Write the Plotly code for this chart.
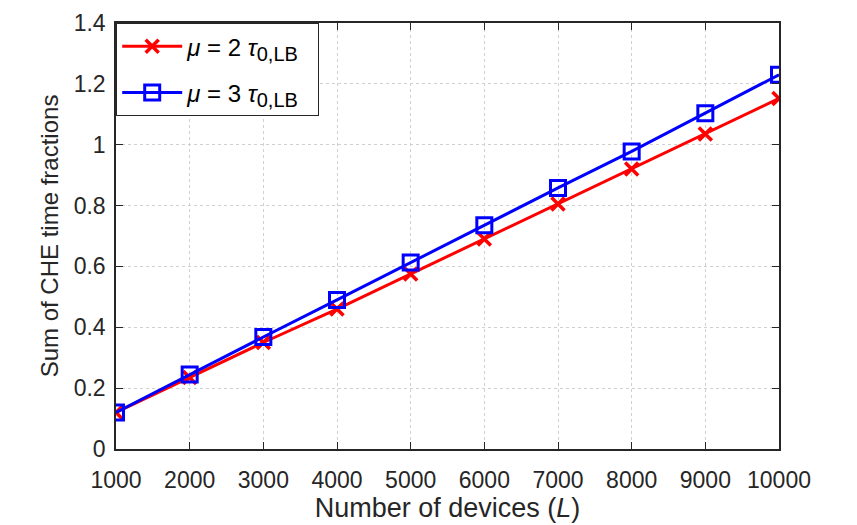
import plotly.graph_objects as go

devices = [1000, 2000, 3000, 4000, 5000, 6000, 7000, 8000, 9000, 10000]
mu2 = [0.12, 0.235, 0.35, 0.46, 0.575, 0.69, 0.805, 0.92, 1.035, 1.152]
mu3 = [0.12, 0.245, 0.368, 0.49, 0.613, 0.735, 0.858, 0.978, 1.103, 1.23]
x_ticks = [1000, 2000, 3000, 4000, 5000, 6000, 7000, 8000, 9000, 10000]
x_tick_text = ["1000", "2000", "3000", "4000", "5000", "6000", "7000", "8000", "9000", "10000"]
y_ticks = [0, 0.2, 0.4, 0.6, 0.8, 1, 1.2, 1.4]
y_tick_text = ["0", "0.2", "0.4", "0.6", "0.8", "1", "1.2", "1.4"]

FONT = "Liberation Sans, Arial, Helvetica, sans-serif"
TXT = "#262626"
SUB = '<sub><span style="font-size:20px">0,LB</span></sub>'
PAD = "\u00a0\u00a0"

fig = go.Figure()
fig.add_trace(go.Scatter(
    x=devices, y=mu2, mode="lines+markers",
    name="<i>μ</i> = 2 <i>τ</i>" + SUB + PAD,
    legendgroup="a",
    line=dict(color="#ff0000", width=3),
    marker=dict(symbol="x-thin", size=13, line=dict(color="#ff0000", width=3.5), color="#ff0000"),
))
fig.add_trace(go.Scatter(
    x=devices, y=mu3, mode="lines+markers",
    name="<i>μ</i> = 3 <i>τ</i>" + SUB + PAD,
    legendgroup="b",
    line=dict(color="#0000ff", width=3),
    marker=dict(symbol="square-open", size=15, line=dict(color="#0000ff", width=3), color="#0000ff"),
))

axis_common = dict(
    showline=True, linecolor=TXT, linewidth=1.5, mirror="ticks",
    ticks="inside", ticklen=7, tickcolor=TXT,
    showgrid=True, gridcolor="#d0d0d0", griddash="dot", gridwidth=1.2,
    zeroline=False, automargin=False,
    tickfont=dict(family=FONT, size=23, color=TXT),
)

fig.update_xaxes(
    range=[1000, 10000], tickvals=x_ticks, ticktext=x_tick_text,
    ticklabelstandoff=10,
    title=dict(text="Number of devices (<i>L</i>)", font=dict(family=FONT, size=27, color=TXT), standoff=6),
    **axis_common,
)
fig.update_yaxes(
    range=[0, 1.4], tickvals=y_ticks, ticktext=y_tick_text,
    ticklabelstandoff=4,
    title=dict(text="Sum of CHE time fractions", font=dict(family=FONT, size=24, color=TXT), standoff=8),
    **axis_common,
)

fig.update_layout(
    width=857, height=525,
    margin=dict(l=116, r=78, t=23, b=76),
    plot_bgcolor="white", paper_bgcolor="white",
    legend=dict(
        x=0, y=1, xanchor="left", yanchor="top",
        bordercolor=TXT, borderwidth=1.2, bgcolor="white",
        font=dict(family=FONT, size=24, color="#000000"),
        itemwidth=60, tracegroupgap=12,
    ),
)

fig.write_html("out.html")
